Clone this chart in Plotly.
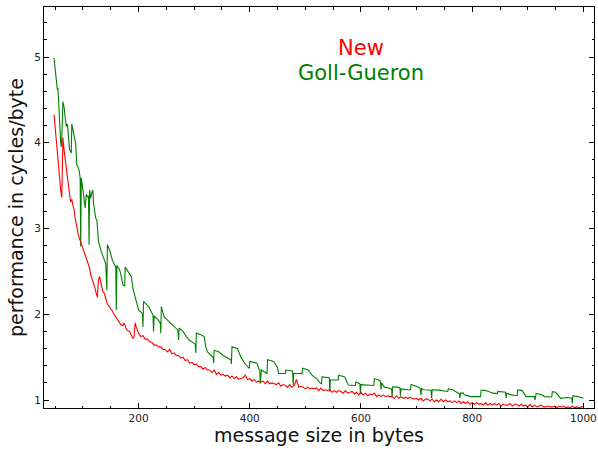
import plotly.graph_objects as go

# ---- data ----
red_head_x = list(range(48, 200, 2))
red_head_y = [4.33, 4.18, 4.00, 3.85, 3.70, 3.58, 3.45, 3.36, 4.06, 3.92,
              3.80, 3.72, 3.62, 3.50, 3.40, 3.31, 3.34, 3.27, 3.22, 3.12,
              3.04, 2.98, 2.92, 2.88, 2.84, 2.82, 2.76, 2.72, 2.68, 2.64,
              2.60, 2.57, 2.54, 2.46, 2.42, 2.40, 2.34, 2.30, 2.24, 2.20,
              2.40, 2.44, 2.38, 2.30, 2.26, 2.25, 2.20, 2.16, 2.12, 2.10,
              2.09, 2.06, 2.05, 2.02, 2.00, 1.97, 1.95, 1.94, 1.92, 1.89,
              1.88, 1.87, 1.87, 1.90, 1.86, 1.83, 1.81, 1.80, 1.80, 1.77,
              1.75, 1.72, 1.74, 1.90, 1.85, 1.80]
red_tail_x = list(range(200, 1001, 4))
red_tail_y = [1.78, 1.74, 1.75, 1.71, 1.71, 1.68, 1.67, 1.64, 1.64, 1.62,
              1.62, 1.59, 1.59, 1.56, 1.59, 1.54, 1.55, 1.52, 1.52, 1.49,
              1.50, 1.46, 1.47, 1.43, 1.44, 1.41, 1.42, 1.39, 1.39, 1.36,
              1.38, 1.35, 1.35, 1.32, 1.35, 1.30, 1.32, 1.29, 1.30, 1.28,
              1.29, 1.26, 1.28, 1.25, 1.27, 1.24, 1.25, 1.26, 1.29, 1.24,
              1.25, 1.22, 1.24, 1.21, 1.22, 1.21, 1.22, 1.19, 1.22, 1.19,
              1.20, 1.19, 1.18, 1.20, 1.16, 1.18, 1.17, 1.15, 1.18, 1.15,
              1.17, 1.24, 1.15, 1.16, 1.15, 1.13, 1.15, 1.13, 1.14, 1.13,
              1.14, 1.11, 1.14, 1.11, 1.12, 1.11, 1.12, 1.09, 1.11, 1.09,
              1.11, 1.10, 1.08, 1.11, 1.08, 1.09, 1.10, 1.07, 1.09, 1.06,
              1.09, 1.06, 1.08, 1.05, 1.07, 1.06, 1.08, 1.04, 1.06, 1.04,
              1.06, 1.04, 1.05, 1.04, 1.04, 1.02, 1.05, 1.02, 1.04, 1.02,
              1.03, 1.02, 1.03, 1.02, 1.01, 1.02, 1.00, 1.02, 0.99, 1.01,
              1.01, 0.99, 1.01, 0.98, 1.00, 0.98, 1.01, 0.98, 1.00, 0.98,
              0.99, 0.97, 0.99, 0.97, 0.99, 0.96, 0.98, 0.96, 0.98, 0.95,
              0.97, 0.95, 0.97, 0.95, 0.96, 0.94, 0.97, 0.94, 0.96, 0.94,
              0.96, 0.94, 0.96, 0.93, 0.95, 0.94, 0.94, 0.96, 0.93, 0.95,
              0.95, 0.93, 0.95, 0.93, 0.94, 0.92, 0.95, 0.92, 0.94, 0.92,
              0.93, 0.94, 0.92, 0.92, 0.93, 0.92, 0.92, 0.93, 0.91, 0.93,
              0.92, 0.93, 0.91, 0.92, 0.91, 0.93, 0.91, 0.92, 0.91, 0.92,
              0.92]
new_x = red_head_x + red_tail_x
new_y = red_head_y + red_tail_y

gg_x = [48, 50, 52, 54, 55, 56, 58, 60, 61, 62,
        64, 66, 68, 70, 72, 74, 76, 79,
        80, 82, 84, 87, 89, 91, 93, 95, 96, 97,
        100, 102, 104, 106, 108, 110, 111, 112, 114, 116, 118, 119, 121, 123, 125, 127, 128,
        133, 137, 141, 143, 144, 148, 153, 159, 160, 161, 166, 169, 172, 175,
        176, 183, 187, 190, 193, 196, 200, 207, 208,
        209, 218, 223, 226, 227, 228, 236, 239, 240,
        241, 246, 252, 258, 264, 270, 271, 272,
        273, 280, 286, 291, 300, 302, 303,
        304, 312, 318, 321, 324, 333, 334, 335,
        336, 345, 352, 360, 366, 367,
        368, 378, 384, 392, 399,
        400, 413, 417, 418, 419, 421, 431,
        432, 443, 450, 452, 464,
        465, 477, 478, 479, 493, 494,
        495, 505, 512, 520, 527, 529,
        530, 541, 543, 544, 545, 559,
        560, 571, 577, 590,
        591, 598, 599, 600, 607, 619, 623,
        624, 630, 635, 636, 637, 642, 650, 655, 656,
        657, 665, 670, 671, 672, 685, 689,
        690, 697, 702, 706, 708, 709, 712, 724, 726, 727, 728, 740, 751, 756,
        757, 765, 775, 777, 778, 779, 784, 786, 798, 815,
        816, 825, 837, 845,
        846, 855, 860, 861, 862, 870, 881,
        882, 890, 897, 912, 913, 914, 915, 925, 930, 943,
        944, 950, 959, 970, 979, 980, 981, 990, 1000]
gg_y = [4.99, 4.85, 4.72, 4.62, 4.64, 4.50, 4.11, 4.00, 3.95, 4.05,
        4.48, 4.42, 4.30, 4.19, 4.22, 4.05, 3.92, 3.88,
        4.22, 4.15, 4.09, 3.99, 3.74, 3.72, 3.68, 3.59, 2.79, 3.59,
        3.45, 3.37, 3.24, 3.40, 3.37, 3.38, 2.81, 3.45, 3.35, 3.42, 3.45, 3.30, 3.20, 3.12, 3.10, 2.95, 2.85,
        2.73, 2.65, 2.59, 2.28, 2.81, 2.75, 2.63, 2.55, 2.05, 2.57, 2.52, 2.44, 2.34, 2.33,
        2.55, 2.48, 2.44, 2.30, 2.22, 2.15, 2.05, 2.01, 1.85,
        2.15, 2.09, 2.03, 1.99, 1.80, 1.98, 1.93, 1.90, 1.78,
        2.09, 1.97, 1.93, 1.89, 1.85, 1.82, 1.80, 1.70,
        1.84, 1.80, 1.74, 1.70, 1.66, 1.65, 1.55,
        1.78, 1.76, 1.74, 1.62, 1.56, 1.505, 1.50, 1.43,
        1.58, 1.56, 1.52, 1.49, 1.47, 1.42,
        1.62, 1.60, 1.50, 1.42, 1.37,
        1.45, 1.43, 1.35, 1.35, 1.19, 1.35, 1.31,
        1.47, 1.45, 1.38, 1.31, 1.31,
        1.35, 1.34, 1.175, 1.31, 1.31, 1.30,
        1.37, 1.35, 1.29, 1.25, 1.195, 1.19,
        1.27, 1.26, 1.26, 1.10, 1.233, 1.233,
        1.29, 1.27, 1.175, 1.17,
        1.21, 1.19, 1.07, 1.18, 1.175, 1.17, 1.17,
        1.25, 1.24, 1.22, 1.12, 1.20, 1.15, 1.14, 1.13, 1.04,
        1.155, 1.15, 1.14, 1.05, 1.13, 1.12, 1.12,
        1.18, 1.17, 1.155, 1.14, 1.06, 1.14, 1.12, 1.117, 1.11, 1.02, 1.12, 1.115, 1.11, 1.10,
        1.13, 1.12, 1.08, 1.07, 1.02, 1.08, 1.08, 1.06, 1.04, 1.04,
        1.117, 1.11, 1.08, 1.075,
        1.10, 1.095, 1.09, 1.02, 1.08, 1.06, 1.05,
        1.117, 1.11, 1.04, 1.04, 1.00, 1.04, 1.078, 1.06, 1.04, 1.035,
        1.097, 1.09, 1.02, 1.03, 1.02, 0.96, 1.05, 1.04, 1.02]

x_ticks = [200, 400, 600, 800, 1000]
y_ticks = [1, 2, 3, 4, 5]

FONT = "DejaVu Sans"

fig = go.Figure()
fig.add_trace(go.Scatter(x=gg_x, y=gg_y, mode="lines", name="Goll-Gueron",
                         line=dict(color="#008000", width=1.1)))
fig.add_trace(go.Scatter(x=new_x, y=new_y, mode="lines", name="New",
                         line=dict(color="#ff0000", width=1.1)))

fig.add_annotation(x=600, y=5.105, text="New", showarrow=False,
                   font=dict(family=FONT, size=21, color="#ff0000"))
fig.add_annotation(x=600, y=4.81, text="Goll-Gueron", showarrow=False,
                   font=dict(family=FONT, size=21, color="#008000"))

axis_common = dict(showline=True, linecolor="black", linewidth=1, mirror="allticks",
                   ticks="inside", ticklen=5, tickcolor="black", tickwidth=1,
                   showgrid=False, zeroline=False, ticklabeloverflow="allow",
                   tickfont=dict(family=FONT, size=10.5, color="#222222"))

fig.update_layout(
    width=598, height=449,
    margin=dict(l=44, r=1, t=7, b=41),
    paper_bgcolor="white", plot_bgcolor="white",
    showlegend=False,
    font=dict(family=FONT),
    xaxis=dict(range=[30, 1019], tickvals=x_ticks, ticktext=[str(v) for v in x_ticks],
               title=dict(text="message size in bytes", font=dict(family=FONT, size=19, color="#111111"),
                          standoff=6),
               minor=dict(dtick=50, tick0=0, ticks="inside", ticklen=2.5, tickcolor="black", showgrid=False),
               **axis_common),
    yaxis=dict(range=[0.907, 5.583], tickvals=y_ticks, ticktext=[str(v) for v in y_ticks],
               title=dict(text="performance in cycles/byte", font=dict(family=FONT, size=19, color="#111111"),
                          standoff=5),
               minor=dict(dtick=0.2, tick0=0, ticks="inside", ticklen=2.5, tickcolor="black", showgrid=False),
               **axis_common),
)

fig.write_html("out.html")
